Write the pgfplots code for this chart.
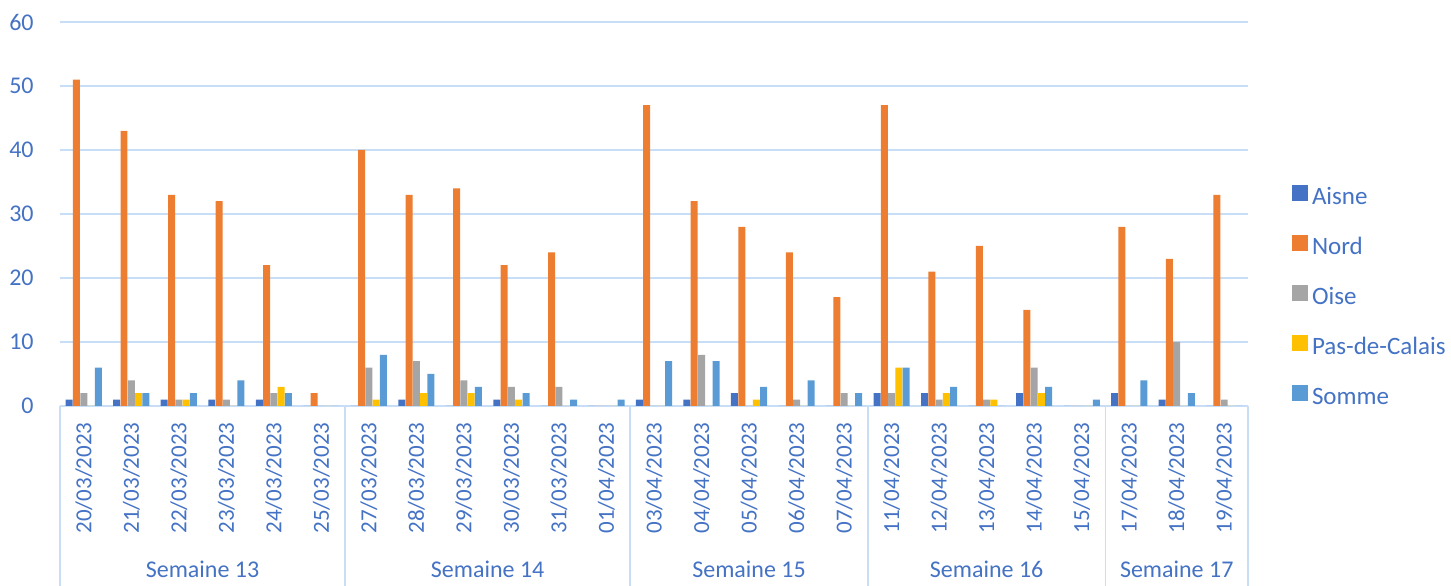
\documentclass[border=0pt]{standalone}
\usepackage{fontspec}
\setmainfont{Carlito}
\usepackage{pgfplots}
\pgfplotsset{compat=1.18}
\usepackage{pgfplotstable}
\definecolor{cA}{HTML}{4472C4}
\definecolor{cN}{HTML}{ED7D31}
\definecolor{cO}{HTML}{A5A5A5}
\definecolor{cP}{HTML}{FFC000}
\definecolor{cS}{HTML}{5B9BD5}
\definecolor{txt}{HTML}{4472C4}
\definecolor{gridc}{RGB}{200,222,246}
\pgfplotsset{sqlegend/.style={legend image code/.code={\fill[##1] (0pt,-1.3pt) rectangle (7.8pt,6.5pt);}}}

\pgfplotstableread{
x A N O P S
0 1 51 2 0 6
1 1 43 4 2 2
2 1 33 1 1 2
3 1 32 1 0 4
4 1 22 2 3 2
5 0 2 0 0 0
6 0 40 6 1 8
7 1 33 7 2 5
8 0 34 4 2 3
9 1 22 3 1 2
10 0 24 3 0 1
11 0 0 0 0 1
12 1 47 0 0 7
13 1 32 8 0 7
14 2 28 0 1 3
15 0 24 1 0 4
16 0 17 2 0 2
17 2 47 2 6 6
18 2 21 1 2 3
19 0 25 1 1 0
20 2 15 6 2 3
21 0 0 0 0 1
22 2 28 0 0 4
23 1 23 10 0 2
24 0 33 1 0 0
}\data

\begin{document}
\begin{tikzpicture}
\begin{axis}[
  scale only axis, width=594pt, height=192pt,
  xmin=-0.5, xmax=24.5, ymin=0, ymax=60,
  ytick={0,10,...,60},
  ymajorgrids, grid style={gridc, line width=0.8pt},
  axis line style={draw=none},
  major tick length=0pt,
  xtick={0,...,24},
  xticklabels={20/03/2023,21/03/2023,22/03/2023,23/03/2023,24/03/2023,25/03/2023,27/03/2023,28/03/2023,29/03/2023,30/03/2023,31/03/2023,01/04/2023,03/04/2023,04/04/2023,05/04/2023,06/04/2023,07/04/2023,11/04/2023,12/04/2023,13/04/2023,14/04/2023,15/04/2023,17/04/2023,18/04/2023,19/04/2023},
  xticklabel style={rotate=90, anchor=east, inner xsep=8pt, inner ysep=0pt, font=\fontsize{11.5}{13}\selectfont, text=txt},
  yticklabel style={anchor=east, inner sep=0pt, xshift=-13pt, font=\fontsize{12}{14}\selectfont, text=txt},
  /pgf/number format/assume math mode=true,
  ybar=0.15pt, bar width=0.147,
  clip=false,
  legend style={draw=none, fill=none, at={(1.032,0.284)}, anchor=west, row sep=13.5pt,
    font=\fontsize{12.5}{14}\selectfont, text=txt, legend cell align=left,
    nodes={text height=8pt, text depth=2pt, inner ysep=0pt}},
]
\addplot[fill=cA, draw=none, sqlegend] table[x=x, y=A] {\data};
\addplot[fill=cN, draw=none, sqlegend] table[x=x, y=N] {\data};
\addplot[fill=cO, draw=none, sqlegend] table[x=x, y=O] {\data};
\addplot[fill=cP, draw=none, sqlegend] table[x=x, y=P] {\data};
\addplot[fill=cS, draw=none, sqlegend] table[x=x, y=S] {\data};
\legend{Aisne, Nord, Oise, Pas-de-Calais, Somme}
\pgfplotsinvokeforeach{-0.5,5.5,11.5,16.5,21.5,24.5}{
  \draw[gridc, line width=0.8pt] (axis cs:#1,0) -- ([yshift=-92pt]axis cs:#1,0);
}
\node[text=txt, font=\fontsize{12}{14}\selectfont, anchor=base] at ([yshift=-86pt]axis cs:2.5,0) {Semaine 13};
\node[text=txt, font=\fontsize{12}{14}\selectfont, anchor=base] at ([yshift=-86pt]axis cs:8.5,0) {Semaine 14};
\node[text=txt, font=\fontsize{12}{14}\selectfont, anchor=base] at ([yshift=-86pt]axis cs:14,0) {Semaine 15};
\node[text=txt, font=\fontsize{12}{14}\selectfont, anchor=base] at ([yshift=-86pt]axis cs:19,0) {Semaine 16};
\node[text=txt, font=\fontsize{12}{14}\selectfont, anchor=base] at ([yshift=-86pt]axis cs:23,0) {Semaine 17};
\coordinate (bl) at (rel axis cs:0,0);
\coordinate (tr) at (rel axis cs:1,1);
\end{axis}
\pgfresetboundingbox
\path[use as bounding box] ([xshift=-30pt,yshift=-90pt]bl) rectangle ([xshift=101.5pt,yshift=11pt]tr);
\end{tikzpicture}
\end{document}
